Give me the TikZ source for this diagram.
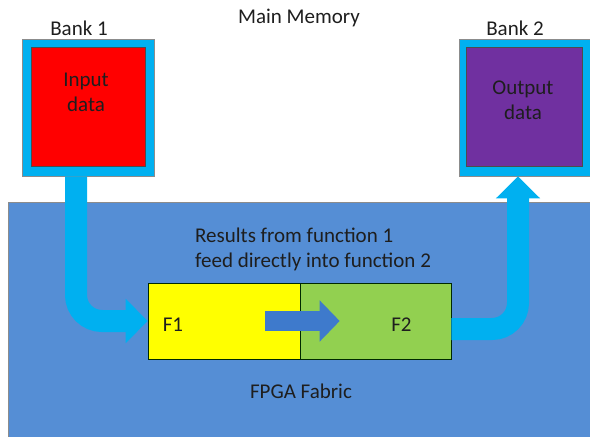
\documentclass[tikz,border=0pt]{standalone}
\usepackage{fontspec}
\setmainfont{Carlito}
\usetikzlibrary{arrows.meta}
\definecolor{fabricblue}{RGB}{85,142,213}
\definecolor{cyanb}{RGB}{0,176,240}
\definecolor{redb}{RGB}{255,0,0}
\definecolor{purpleb}{RGB}{112,48,160}
\definecolor{yellowb}{RGB}{255,255,0}
\definecolor{greenb}{RGB}{146,208,80}
\definecolor{innerblue}{RGB}{62,122,204}
\definecolor{txt}{RGB}{30,30,30}
\definecolor{bordergray}{RGB}{140,140,140}
\tikzset{
  lbl/.style={font=\fontsize{21}{25}\selectfont, text=txt, inner sep=0pt, align=center},
  bankbox/.style={draw=bordergray, line width=0.8pt, fill=cyanb, minimum width=132pt, minimum height=137pt, inner sep=0pt},
  databox/.style={draw=black!70, line width=0.6pt, minimum height=119pt, inner sep=0pt},
  fbox/.style={draw=black!60!green!40!black, line width=0.6pt, minimum height=76pt, inner sep=0pt},
  bigarrow/.style={draw=cyanb, line width=22pt, rounded corners=26pt, -{Triangle[length=22pt,width=43pt]}},
  smallarrow/.style={draw=innerblue, line width=20pt, -{Triangle[length=20pt,width=40pt]}},
}
\begin{document}
\begin{tikzpicture}[x=1pt,y=-1pt]
\useasboundingbox (0,0) rectangle (590,437);
% fabric
\node[draw=bordergray, line width=0.8pt, fill=fabricblue, minimum width=600pt, minimum height=250pt, inner sep=0pt, anchor=north west] (fabric) at (8,202) {};
\node[lbl] (fabriclbl) at (301,391) {FPGA Fabric};
% title
\node[lbl] (mainmem) at (299,18) {Main Memory};
% bank 1
\node[bankbox] (bank1) at (88,107.5) {};
\node[databox, fill=redb, minimum width=114pt] (in1) at (88,106.5) {};
\node[lbl] (in1lbl) at (86,92) {Input\\data};
\node[lbl] (b1lbl) at (79,28) {Bank 1};
% bank 2
\node[bankbox] (bank2) at (525,107.5) {};
\node[databox, fill=purpleb, minimum width=116pt] (out2) at (524,106.5) {};
\node[lbl] (out2lbl) at (523,100) {Output\\data};
\node[lbl] (b2lbl) at (515,28) {Bank 2};
% functions
\node[fbox, fill=yellowb, minimum width=152pt] (F1) at (224,321) {};
\node[fbox, fill=greenb, minimum width=151pt] (F2) at (375.5,321) {};
\node[lbl] (F1lbl) at (173,325) {F1};
\node[lbl] (F2lbl) at (401.5,325) {F2};
\node[lbl, align=left, anchor=west] (note) at (195,249.5) {Results from function 1\\feed directly into function 2};
% arrows
\draw[bigarrow] ([xshift=-12pt]bank1.south) |- (F1.west);
\draw[bigarrow] ([yshift=-8pt]F2.east) -| ([xshift=-7pt]bank2.south);
\draw[smallarrow] ([xshift=-35pt]F1.east) -- ([xshift=40pt]F2.west);
\end{tikzpicture}
\end{document}
